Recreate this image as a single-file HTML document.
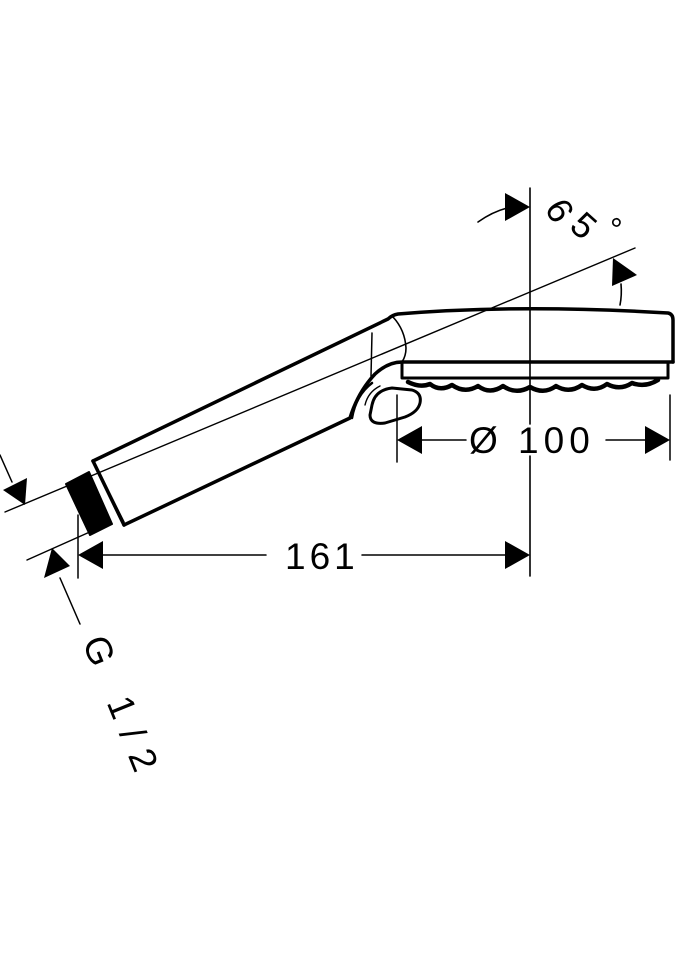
<!DOCTYPE html>
<html><head><meta charset="utf-8"><style>
html,body{margin:0;padding:0;background:#fff;}
svg{display:block;}
text{font-family:"Liberation Sans","DejaVu Sans",sans-serif;fill:#000;}
</style></head><body>
<svg width="675" height="960" viewBox="0 0 675 960" xmlns="http://www.w3.org/2000/svg">
<g fill="none" stroke="#000" stroke-linecap="round" stroke-linejoin="round">
<line x1="530" y1="188" x2="530" y2="424" stroke-width="1.6"/>
<line x1="530" y1="456" x2="530" y2="576" stroke-width="1.6"/>
<line x1="5" y1="512" x2="635" y2="248" stroke-width="1.4"/>
<path d="M478 222 Q492 212 507 208" stroke-width="1.6"/>
<path d="M620 305 Q622 295 621 284" stroke-width="1.6"/>

<path d="M93 461 L388 319 Q392 315 398 314 Q520 304 668 313 Q673 314 673 320 L673 362" stroke-width="3.5"/>
<line x1="93" y1="461" x2="124" y2="525" stroke-width="3.5"/>
<path d="M124 525 L350 418 Q358 392 375 374 Q388 362 402 362 L673 362" stroke-width="3.5"/>
<line x1="97" y1="468" x2="124" y2="522" stroke-width="1.5"/>
<line x1="372" y1="333" x2="371" y2="376" stroke-width="1.5"/>
<path d="M393 317 Q405 330 406 348 Q406 356 402 362" stroke-width="1.6"/>
<path d="M402 362 L402 378 L668 378 L668 362" stroke-width="3"/>
<path d="M408 382 Q420 388 430 384 Q440 392 452 385 Q465 394 478 386 Q490 395 503 386 Q516 395 530 387 Q544 395 556 386 Q569 394 582 385 Q595 393 607 384 Q620 391 632 383 Q645 388 658 380" stroke-width="4.5"/>
<path d="M352 418 Q356 395 372 383" stroke-width="2.5"/>
<path d="M372 405 Q375 390 392 388 L412 390 Q422 393 420 403 Q418 412 405 417 L385 423 Q370 425 370 415 Z" stroke-width="3"/>
<path d="M365 405 Q368 392 380 386" stroke-width="1.4"/>

<polygon points="66,484 89,472 112,524 90,535" fill="#000" stroke-width="2"/>

<line x1="27" y1="560" x2="92" y2="531" stroke-width="1.5"/>
<line x1="78" y1="515" x2="78" y2="578" stroke-width="1.5"/>
<line x1="0" y1="455" x2="12" y2="482" stroke-width="1.5"/>
<line x1="60" y1="578" x2="80" y2="624" stroke-width="1.5"/>

<line x1="100" y1="555" x2="266" y2="555" stroke-width="1.5"/>
<line x1="362" y1="555" x2="508" y2="555" stroke-width="1.5"/>
<line x1="397" y1="395" x2="397" y2="462" stroke-width="1.5"/>
<line x1="670" y1="395" x2="670" y2="460" stroke-width="1.5"/>
<line x1="420" y1="440" x2="466" y2="440" stroke-width="1.5"/>
<line x1="606" y1="440" x2="648" y2="440" stroke-width="1.5"/>
</g>
<g fill="#000" stroke="none">
<polygon points="530,207 505,193 505,221"/>
<polygon points="613,258 612,286 637,275"/>
<polygon points="397,440 422,426 422,454"/>
<polygon points="670,440 645,426 645,454"/>
<polygon points="78,555 103,541 103,569"/>
<polygon points="530,555 505,541 505,569"/>
<polygon points="25,505 3,490 27,478"/>
<polygon points="52,548 44,578 70,566"/>
</g>
<text x="0" y="0" font-size="36" transform="translate(544,208) rotate(60)">6</text>
<text x="0" y="0" font-size="36" transform="translate(568,228) rotate(42)">5</text>
<text x="0" y="0" font-size="32" transform="translate(600,232) rotate(40)">°</text>
<text x="469" y="453" font-size="37" letter-spacing="5">Ø 100</text>
<text x="285" y="569" font-size="37" letter-spacing="4">161</text>
<text x="0" y="0" font-size="37" letter-spacing="13" transform="translate(82,642) rotate(68)">G 1/2</text>
</svg>
</body></html>
